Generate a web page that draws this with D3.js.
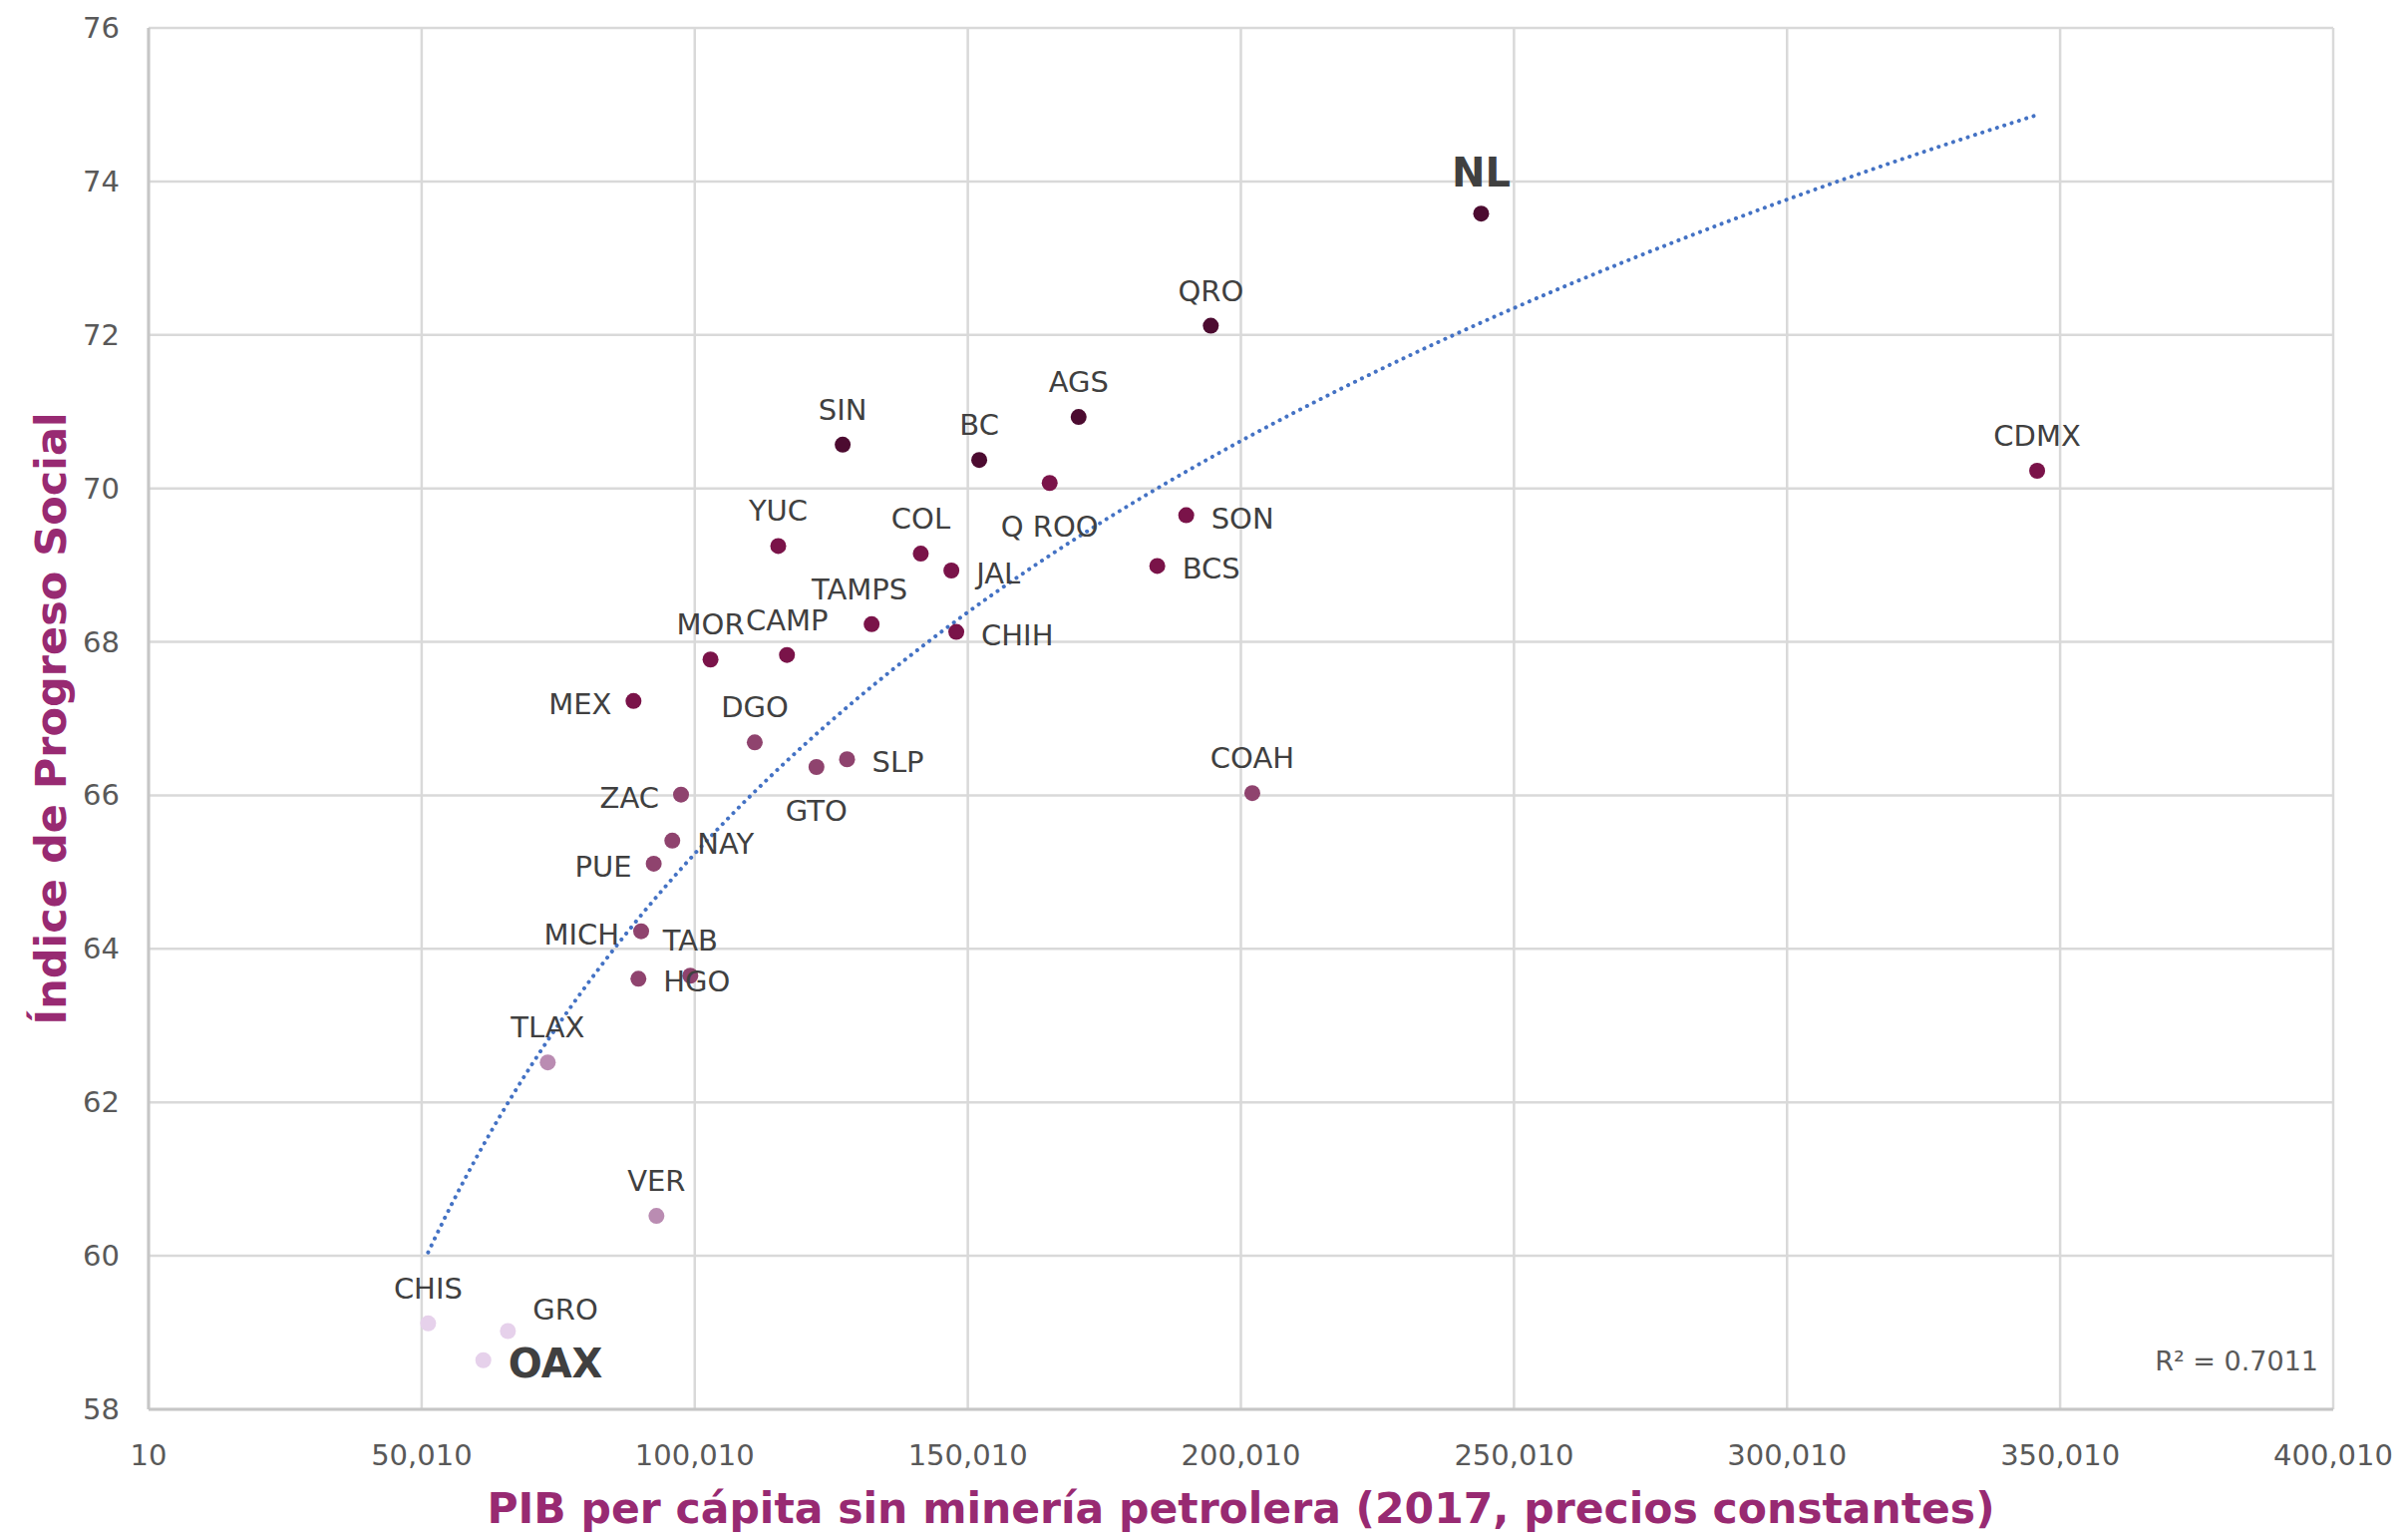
<!DOCTYPE html>
<html>
<head>
<meta charset="utf-8">
<script src="https://cdn.jsdelivr.net/npm/d3@7"></script>
<style>
  body { margin: 0; background: #fff; }
  svg { display: block; font-family: "DejaVu Sans", Verdana, sans-serif; }
</style>
</head>
<body>
<div id="vis"></div>
<script>
var w = 2415, h = 1541; //size of the svg

//states, GDP per capita without oil mining and social progress index
var states = ["NL", "QRO", "AGS", "BC", "SIN", "Q ROO", "CDMX", "SON", "BCS", "YUC",
              "COL", "JAL", "TAMPS", "CHIH", "MOR", "CAMP", "MEX", "DGO", "GTO", "SLP",
              "COAH", "ZAC", "NAY", "PUE", "MICH", "TAB", "HGO", "TLAX", "VER", "CHIS",
              "GRO", "OAX"];
var pib = [244000, 194500, 170300, 152100, 127100, 165000, 345800, 190000, 184700, 115300,
           141400, 147000, 132400, 147900, 102900, 116900, 88800, 111000, 122300, 127900,
           202100, 97500, 95900, 92500, 90200, 99200, 89700, 73100, 93000, 51200,
           65800, 61300];
var ips = [73.58, 72.12, 70.93, 70.37, 70.57, 70.07, 70.23, 69.65, 68.99, 69.25,
           69.15, 68.93, 68.23, 68.13, 67.77, 67.83, 67.23, 66.69, 66.37, 66.47,
           66.03, 66.01, 65.41, 65.11, 64.23, 63.65, 63.61, 62.52, 60.52, 59.12,
           59.02, 58.64];

//states highlighted with bold labels
var highlighted = ["NL", "OAX"];

//tick values of both axes
var xTicks = [10, 50010, 100010, 150010, 200010, 250010, 300010, 350010, 400010];
var yTicks = [58, 60, 62, 64, 66, 68, 70, 72, 74, 76];

var r2Label = "R² = 0.7011";

//where each label sits around its point
var labelSide = {
  "SON": "right", "BCS": "right", "JAL": "right", "CHIH": "right", "SLP": "right",
  "NAY": "right", "HGO": "right", "OAX": "right", "GRO": "upright",
  "MEX": "left", "ZAC": "left", "PUE": "left", "MICH": "left",
  "Q ROO": "below", "GTO": "below"
};

var dataset = states.map(function(s, i){
  return {name: s, pib: pib[i], ips: ips[i]};
});

//plot area edges ("top" is taken by window.top, so prefixed names)
var plotLeft = 149, plotRight = 2340, plotTop = 28, plotBottom = 1413;

var xScale = d3.scaleLinear()
               .domain([10, 400010])
               .range([plotLeft, plotRight]);

var yScale = d3.scaleLinear()
               .domain([58, 76])
               .range([plotBottom, plotTop]);

//colour of the points goes darker with the index
var colorScale = d3.scaleThreshold()
                   .domain([60, 63, 67, 70.3])
                   .range(["#E6D1EB", "#BA8CB2", "#8F436E", "#7A1349", "#4C0B30"]);

var svg = d3.select("#vis")
            .append("svg")
            .attr("width", w)
            .attr("height", h);

//gridlines
svg.append("g")
   .selectAll("line")
   .data(xTicks)
   .enter()
   .append("line")
   .attr("x1", function(d){ return xScale(d); })
   .attr("x2", function(d){ return xScale(d); })
   .attr("y1", plotTop)
   .attr("y2", plotBottom)
   .attr("stroke", "#D9D9D9")
   .attr("stroke-width", 2.5);

svg.append("g")
   .selectAll("line")
   .data(yTicks)
   .enter()
   .append("line")
   .attr("x1", plotLeft)
   .attr("x2", plotRight)
   .attr("y1", function(d){ return yScale(d); })
   .attr("y2", function(d){ return yScale(d); })
   .attr("stroke", "#D9D9D9")
   .attr("stroke-width", 2.5);

//axes lines
svg.append("line")
   .attr("x1", plotLeft).attr("x2", plotLeft)
   .attr("y1", plotTop).attr("y2", plotBottom)
   .attr("stroke", "#C6C6C6").attr("stroke-width", 3);
svg.append("line")
   .attr("x1", plotLeft).attr("x2", plotRight)
   .attr("y1", plotBottom).attr("y2", plotBottom)
   .attr("stroke", "#C6C6C6").attr("stroke-width", 3);

//tick labels
var fmt = d3.format(",");
svg.append("g")
   .selectAll("text")
   .data(xTicks)
   .enter()
   .append("text")
   .attr("x", function(d){ return xScale(d); })
   .attr("y", 1459)
   .attr("text-anchor", "middle")
   .attr("dominant-baseline", "central")
   .attr("font-size", 29)
   .attr("fill", "#595959")
   .text(function(d){ return fmt(d); });

svg.append("g")
   .selectAll("text")
   .data(yTicks)
   .enter()
   .append("text")
   .attr("x", 120)
   .attr("y", function(d){ return yScale(d); })
   .attr("text-anchor", "end")
   .attr("dominant-baseline", "central")
   .attr("font-size", 29)
   .attr("fill", "#595959")
   .text(function(d){ return d; });

//logarithmic trend line, least squares on ln(x)
var n = dataset.length;
var lx = dataset.map(function(d){ return Math.log(d.pib); });
var mx = d3.mean(lx), my = d3.mean(ips);
var sxy = 0, sxx = 0;
for (var i = 0; i < n; i++) {
  sxy += (lx[i] - mx) * (ips[i] - my);
  sxx += (lx[i] - mx) * (lx[i] - mx);
}
var slope = sxy / sxx, icpt = my - slope * mx;
var xMin = d3.min(pib), xMax = d3.max(pib);
var trend = d3.range(0, 201).map(function(k){
  var xv = xMin + (xMax - xMin) * k / 200;
  return [xv, slope * Math.log(xv) + icpt];
});

svg.append("path")
   .datum(trend)
   .attr("d", d3.line()
                .x(function(d){ return xScale(d[0]); })
                .y(function(d){ return yScale(d[1]); }))
   .attr("fill", "none")
   .attr("stroke", "#4472C4")
   .attr("stroke-width", 4)
   .attr("stroke-linecap", "round")
   .attr("stroke-dasharray", "0.1 7.6");

//points
svg.append("g")
   .selectAll("circle")
   .data(dataset)
   .enter()
   .append("circle")
   .attr("cx", function(d){ return xScale(d.pib); })
   .attr("cy", function(d){ return yScale(d.ips); })
   .attr("r", 8)
   .attr("fill", function(d){ return colorScale(d.ips); });

//labels
svg.append("g")
   .selectAll("text")
   .data(dataset)
   .enter()
   .append("text")
   .attr("x", function(d){
     var side = labelSide[d.name], px = xScale(d.pib);
     if (side == "right" || side == "upright") return px + 25;
     if (side == "left") return px - 22;
     if (d.name == "TAMPS") return px - 12;
     return px;
   })
   .attr("y", function(d){
     var side = labelSide[d.name], py = yScale(d.ips);
     if (side == "right" || side == "left") return py + 3;
     if (side == "upright") return py - 22;
     if (side == "below") return py + 44;
     if (highlighted.indexOf(d.name) >= 0) return py - 41;
     return py - 35;
   })
   .attr("text-anchor", function(d){
     var side = labelSide[d.name];
     if (side == "right" || side == "upright") return "start";
     if (side == "left") return "end";
     return "middle";
   })
   .attr("dominant-baseline", "central")
   .attr("font-size", function(d){ return highlighted.indexOf(d.name) >= 0 ? 40 : 29; })
   .attr("font-weight", function(d){ return highlighted.indexOf(d.name) >= 0 ? "bold" : "normal"; })
   .attr("fill", "#404040")
   .text(function(d){ return d.name; });

//R squared
svg.append("text")
   .attr("x", 2325)
   .attr("y", 1364)
   .attr("text-anchor", "end")
   .attr("dominant-baseline", "central")
   .attr("font-size", 27)
   .attr("fill", "#595959")
   .text(r2Label);

//axis titles
svg.append("text")
   .attr("x", (plotLeft + plotRight) / 2)
   .attr("y", 1527)
   .attr("text-anchor", "middle")
   .attr("font-size", 42.5)
   .attr("font-weight", "bold")
   .attr("fill", "#982A72")
   .text("PIB per cápita sin minería petrolera (2017, precios constantes)");

svg.append("text")
   .attr("transform", "translate(66," + ((plotTop + plotBottom) / 2) + ") rotate(-90)")
   .attr("text-anchor", "middle")
   .attr("font-size", 43)
   .attr("font-weight", "bold")
   .attr("fill", "#982A72")
   .text("Índice de Progreso Social");
</script>
</body>
</html>
